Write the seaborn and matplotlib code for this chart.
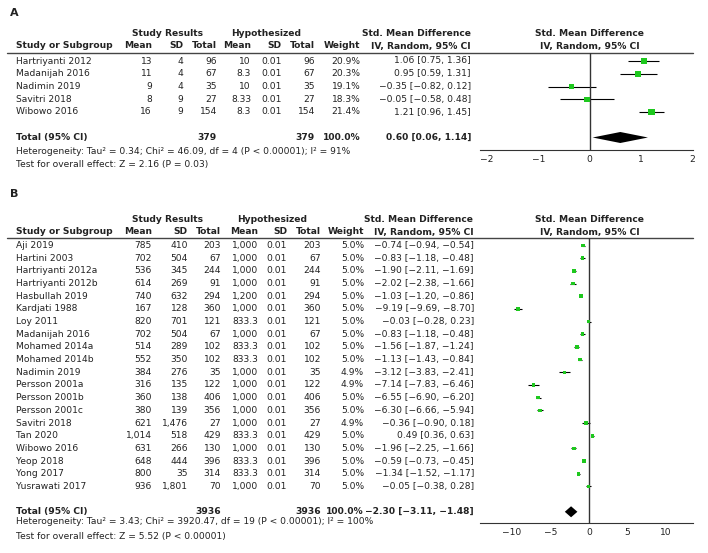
import numpy as np
import pandas as pd
import seaborn as sns
import matplotlib.pyplot as plt

sns.set_style('white')
plt.rcParams['font.family'] = ['DejaVu Sans']

# %% data - panel A
studies_a = ['Hartriyanti 2012', 'Madanijah 2016', 'Nadimin 2019', 'Savitri 2018', 'Wibowo 2016']
mean_a = [13, 11, 9, 8, 16]
sd_a = [4, 4, 4, 9, 9]
n_a = [96, 67, 35, 27, 154]
hyp_mean_a = [10, 8.3, 10, 8.33, 8.3]
hyp_sd_a = [0.01, 0.01, 0.01, 0.01, 0.01]
hyp_n_a = [96, 67, 35, 27, 154]
weight_a = [20.9, 20.3, 19.1, 18.3, 21.4]
smd_a = [1.06, 0.95, -0.35, -0.05, 1.21]
lo_a = [0.75, 0.59, -0.82, -0.58, 0.96]
hi_a = [1.36, 1.31, 0.12, 0.48, 1.45]
total_a = (379, 379, 100.0, 0.60, 0.06, 1.14)
het_a = 'Heterogeneity: Tau² = 0.34; Chi² = 46.09, df = 4 (P < 0.00001); I² = 91%'
test_a = 'Test for overall effect: Z = 2.16 (P = 0.03)'
ticks_a = [-2, -1, 0, 1, 2]

# %% data - panel B
studies_b = ['Aji 2019', 'Hartini 2003', 'Hartriyanti 2012a', 'Hartriyanti 2012b', 'Hasbullah 2019',
             'Kardjati 1988', 'Loy 2011', 'Madanijah 2016', 'Mohamed 2014a', 'Mohamed 2014b',
             'Nadimin 2019', 'Persson 2001a', 'Persson 2001b', 'Persson 2001c', 'Savitri 2018',
             'Tan 2020', 'Wibowo 2016', 'Yeop 2018', 'Yong 2017', 'Yusrawati 2017']
mean_b = [785, 702, 536, 614, 740, 167, 820, 702, 514, 552, 384, 316, 360, 380, 621, 1014, 631, 648, 800, 936]
sd_b = [410, 504, 345, 269, 632, 128, 701, 504, 289, 350, 276, 135, 138, 139, 1476, 518, 266, 444, 35, 1801]
n_b = [203, 67, 244, 91, 294, 360, 121, 67, 102, 102, 35, 122, 406, 356, 27, 429, 130, 396, 314, 70]
hyp_mean_b = [1000, 1000, 1000, 1000, 1200, 1000, 833.3, 1000, 833.3, 833.3, 1000, 1000, 1000, 1000,
              1000, 833.3, 1000, 833.3, 833.3, 1000]
hyp_sd_b = [0.01] * 20
hyp_n_b = n_b
weight_b = [5.0, 5.0, 5.0, 5.0, 5.0, 5.0, 5.0, 5.0, 5.0, 5.0, 4.9, 4.9, 5.0, 5.0, 4.9, 5.0, 5.0, 5.0, 5.0, 5.0]
smd_b = [-0.74, -0.83, -1.90, -2.02, -1.03, -9.19, -0.03, -0.83, -1.56, -1.13, -3.12, -7.14, -6.55, -6.30,
         -0.36, 0.49, -1.96, -0.59, -1.34, -0.05]
lo_b = [-0.94, -1.18, -2.11, -2.38, -1.20, -9.69, -0.28, -1.18, -1.87, -1.43, -3.83, -7.83, -6.90, -6.66,
        -0.90, 0.36, -2.25, -0.73, -1.52, -0.38]
hi_b = [-0.54, -0.48, -1.69, -1.66, -0.86, -8.70, 0.23, -0.48, -1.24, -0.84, -2.41, -6.46, -6.20, -5.94,
        0.18, 0.63, -1.66, -0.45, -1.17, 0.28]
total_b = (3936, 3936, 100.0, -2.30, -3.11, -1.48)
het_b = 'Heterogeneity: Tau² = 3.43; Chi² = 3920.47, df = 19 (P < 0.00001); I² = 100%'
test_b = 'Test for overall effect: Z = 5.52 (P < 0.00001)'
ticks_b = [-10, -5, 0, 5, 10]

W, H = 708, 553
FS = 6.6
TXT = '#222222'
GREEN = '#1ec81e'


def num(v):
    if float(v).is_integer():
        return f'{int(v):,}'
    return f'{v:,}'


def ci(e, l, h):
    return f'{e:.2f} [{l:.2f}, {h:.2f}]'.replace('-', '\u2212')


fig = plt.figure(figsize=(W / 100, H / 100), dpi=100)
bg = fig.add_axes([0, 0, 1, 1])
bg.set_xlim(0, W)
bg.set_ylim(H, 0)
bg.axis('off')


def panel(label, ly, studies, cols, vals, total, het, test, df, ticks, xlim,
          y_hdr1, y_hdr2, y_rule, y0, dy, y_axis, y_het, y_test,
          grp_x, smd_hdr_x, sizes):
    # cols: right edges of Mean, SD, Total, Mean, SD, Total, Weight, CI
    bg.text(10, ly, label, fontsize=8, fontweight='bold', va='center', color=TXT)
    bg.text(grp_x[0], y_hdr1, 'Study Results', ha='center', va='center', fontsize=FS, fontweight='bold', color=TXT)
    bg.text(grp_x[1], y_hdr1, 'Hypothesized', ha='center', va='center', fontsize=FS, fontweight='bold', color=TXT)
    bg.text(smd_hdr_x, y_hdr1, 'Std. Mean Difference', ha='center', va='center', fontsize=FS, fontweight='bold', color=TXT)
    bg.text(589.5, y_hdr1, 'Std. Mean Difference', ha='center', va='center', fontsize=FS, fontweight='bold', color=TXT)
    bg.text(589.5, y_hdr2, 'IV, Random, 95% CI', ha='center', va='center', fontsize=FS, fontweight='bold', color=TXT)
    bg.text(16, y_hdr2, 'Study or Subgroup', va='center', fontsize=FS, fontweight='bold', color=TXT)
    for x, t in zip(cols, ['Mean', 'SD', 'Total', 'Mean', 'SD', 'Total', 'Weight', 'IV, Random, 95% CI']):
        bg.text(x, y_hdr2, t, ha='right', va='center', fontsize=FS, fontweight='bold', color=TXT)
    bg.plot([7, 693], [y_rule, y_rule], color='#444444', lw=1)

    for i, s in enumerate(studies):
        y = y0 + i * dy
        bg.text(16, y, s, va='center', fontsize=FS, color=TXT)
        row = [num(v[i]) for v in vals[:6]] + [f'{vals[6][i]:.1f}%', ci(vals[7][i], vals[8][i], vals[9][i])]
        for x, t in zip(cols, row):
            bg.text(x, y, t, ha='right', va='center', fontsize=FS, color=TXT)

    yt = y0 + (len(studies) + 1) * dy
    bg.text(16, yt, 'Total (95% CI)', va='center', fontsize=FS, fontweight='bold', color=TXT)
    for x, t in zip([cols[2], cols[5], cols[6], cols[7]],
                    [str(total[0]), str(total[1]), f'{total[2]:.1f}%', ci(*total[3:])]):
        bg.text(x, yt, t, ha='right', va='center', fontsize=FS, fontweight='bold', color=TXT)
    bg.text(16, y_het, het, va='center', fontsize=FS, color=TXT)
    bg.text(16, y_test, test, va='center', fontsize=FS, color=TXT)

    # forest axes, y in row units aligned with the table rows
    ax = fig.add_axes([480 / W, 1 - y_axis / H, 213 / W, (y_axis - y_rule) / H])
    ax.set_xlim(*xlim)
    ax.set_ylim((y_axis - y0) / dy, (y_rule - y0) / dy)
    ax.hlines(df['row'], df['lo'], df['hi'], color='black', lw=0.8)
    sns.scatterplot(data=df, x='smd', y='row', size='weight', sizes=sizes, marker='s',
                    color=GREEN, edgecolor='none', linewidth=0, legend=False, ax=ax, zorder=3)
    rt = len(studies) + 1
    hh = 5.5 / dy
    ax.fill([total[4], total[3], total[5], total[3]], [rt, rt - hh, rt, rt + hh], color='black', lw=0)
    ax.axvline(0, color='#333333', lw=1)
    for sp in ['top', 'right', 'left']:
        ax.spines[sp].set_visible(False)
    ax.spines['bottom'].set_color('#333333')
    ax.set_xticks(ticks)
    ax.set_xticklabels([str(t).replace('-', '\u2212') for t in ticks], fontsize=FS, color=TXT)
    ax.tick_params(axis='x', direction='inout', length=5, width=0.8, pad=1, color='#333333')
    ax.set_yticks([])
    ax.set_xlabel('')
    ax.set_ylabel('')
    ax.patch.set_alpha(0)


df_a = pd.DataFrame({'row': np.arange(len(studies_a)), 'smd': smd_a, 'lo': lo_a, 'hi': hi_a, 'weight': weight_a})
df_b = pd.DataFrame({'row': np.arange(len(studies_b)), 'smd': smd_b, 'lo': lo_b, 'hi': hi_b, 'weight': weight_b})

panel('A', 13, studies_a, [152, 183, 217, 251, 282, 315, 360.5, 471],
      [mean_a, sd_a, n_a, hyp_mean_a, hyp_sd_a, hyp_n_a, weight_a, smd_a, lo_a, hi_a],
      total_a, het_a, test_a, df_a, ticks_a, (-2.14, 2.02),
      33, 46, 53, 61, 12.75, 150, 152, 164.5, (167, 266), 416, (14, 20))

panel('B', 194, studies_b, [152, 188, 221, 258, 287, 321, 364, 474],
      [mean_b, sd_b, n_b, hyp_mean_b, hyp_sd_b, hyp_n_b, weight_b, smd_b, lo_b, hi_b],
      total_b, het_b, test_b, df_b, ticks_b, (-14.1, 13.5),
      219, 232, 238, 245.5, 12.68, 523.3, 522, 536.5, (168, 272), 419, (5, 7))

fig.savefig('out.png', dpi=100)
